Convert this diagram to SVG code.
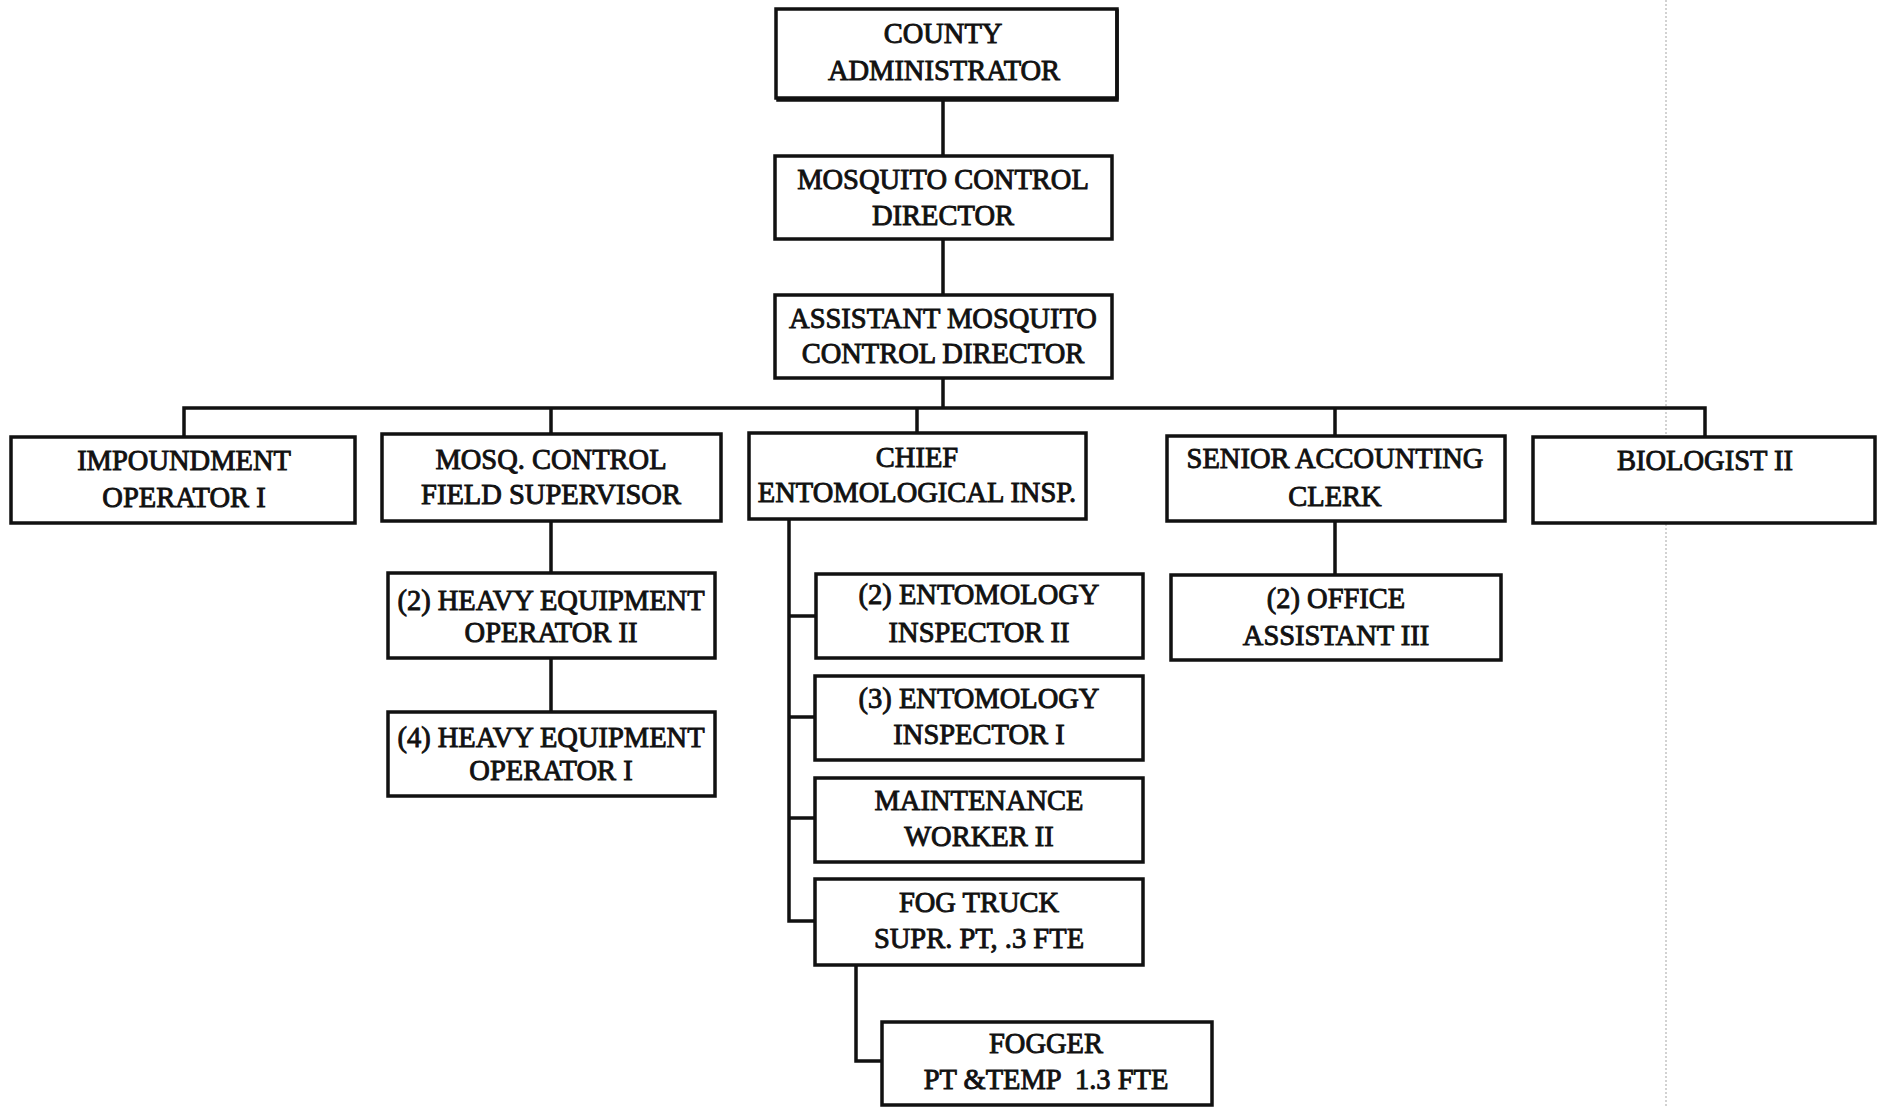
<svg xmlns="http://www.w3.org/2000/svg" width="1883" height="1108" viewBox="0 0 1883 1108">
<style>
.box{fill:#fff;stroke:#111;stroke-width:3.5}
.ln{fill:none;stroke:#111;stroke-width:3.5;stroke-linecap:square}
.t{font-family:"Liberation Serif","Times New Roman",serif;font-size:28.5px;fill:#111;stroke:#111;stroke-width:0.9;text-anchor:middle}
</style>
<rect width="1883" height="1108" fill="#fff"/>
<line x1="1666" y1="0" x2="1666" y2="1108" stroke="#c4c4c4" stroke-width="1.5" stroke-dasharray="2,2"/>
<g id="connectors">
<path class="ln" d="M943 98V156M943 239V295M943 378V408M184 408H1705M184 408V437M551 408V434M917 408V433M1335 408V436M1705 408V437"/>
<path class="ln" d="M551 521V573M551 658V712M1335 521V575"/>
<path class="ln" d="M789 519V921H815M789 616H816M789 717H815M789 818H815"/>
<path class="ln" d="M856 965V1061H882"/>
</g>
<g id="county-administrator">
<rect class="box" x="776" y="9" width="341" height="89"/>
<path class="ln" d="M1117 11V100H778" stroke-width="4"/>
<text class="t" x="943" y="43">COUNTY</text>
<text class="t" x="944" y="80">ADMINISTRATOR</text>
</g>
<g id="mosquito-control-director">
<rect class="box" x="775" y="156" width="337" height="83"/>
<text class="t" x="943" y="189">MOSQUITO CONTROL</text>
<text class="t" x="943" y="225">DIRECTOR</text>
</g>
<g id="assistant-director">
<rect class="box" x="775" y="295" width="337" height="83"/>
<text class="t" x="943" y="328">ASSISTANT MOSQUITO</text>
<text class="t" x="943" y="363">CONTROL DIRECTOR</text>
</g>
<g id="impoundment-operator">
<rect class="box" x="11" y="437" width="344" height="86"/>
<text class="t" x="184" y="470">IMPOUNDMENT</text>
<text class="t" x="184" y="507">OPERATOR I</text>
</g>
<g id="field-supervisor">
<rect class="box" x="382" y="434" width="339" height="87"/>
<text class="t" x="551" y="469">MOSQ. CONTROL</text>
<text class="t" x="551" y="504">FIELD SUPERVISOR</text>
</g>
<g id="chief-entomological">
<rect class="box" x="749" y="433" width="337" height="86"/>
<text class="t" x="917" y="467">CHIEF</text>
<text class="t" x="917" y="502">ENTOMOLOGICAL INSP.</text>
</g>
<g id="senior-accounting-clerk">
<rect class="box" x="1167" y="436" width="338" height="85"/>
<text class="t" x="1335" y="468">SENIOR ACCOUNTING</text>
<text class="t" x="1335" y="506">CLERK</text>
</g>
<g id="biologist">
<rect class="box" x="1533" y="437" width="342" height="86"/>
<text class="t" x="1705" y="470">BIOLOGIST II</text>
</g>
<g id="heo-2">
<rect class="box" x="388" y="573" width="327" height="85"/>
<text class="t" x="551" y="610">(2) HEAVY EQUIPMENT</text>
<text class="t" x="551" y="642">OPERATOR II</text>
</g>
<g id="heo-1">
<rect class="box" x="388" y="712" width="327" height="84"/>
<text class="t" x="551" y="747">(4) HEAVY EQUIPMENT</text>
<text class="t" x="551" y="780">OPERATOR I</text>
</g>
<g id="office-assistant">
<rect class="box" x="1171" y="575" width="330" height="85"/>
<text class="t" x="1336" y="608">(2) OFFICE</text>
<text class="t" x="1336" y="645">ASSISTANT III</text>
</g>
<g id="entomology-inspector-2">
<rect class="box" x="816" y="574" width="327" height="84"/>
<text class="t" x="979" y="604">(2) ENTOMOLOGY</text>
<text class="t" x="979" y="642">INSPECTOR II</text>
</g>
<g id="entomology-inspector-1">
<rect class="box" x="815" y="676" width="328" height="84"/>
<text class="t" x="979" y="708">(3) ENTOMOLOGY</text>
<text class="t" x="979" y="744">INSPECTOR I</text>
</g>
<g id="maintenance-worker">
<rect class="box" x="815" y="778" width="328" height="84"/>
<text class="t" x="979" y="810">MAINTENANCE</text>
<text class="t" x="979" y="846">WORKER II</text>
</g>
<g id="fog-truck">
<rect class="box" x="815" y="879" width="328" height="86"/>
<text class="t" x="979" y="912">FOG TRUCK</text>
<text class="t" x="979" y="948">SUPR. PT, .3 FTE</text>
</g>
<g id="fogger">
<rect class="box" x="882" y="1022" width="330" height="83"/>
<text class="t" x="1046" y="1053">FOGGER</text>
<text class="t" x="1046" y="1089" xml:space="preserve">PT &amp;TEMP  1.3 FTE</text>
</g>
</svg>
